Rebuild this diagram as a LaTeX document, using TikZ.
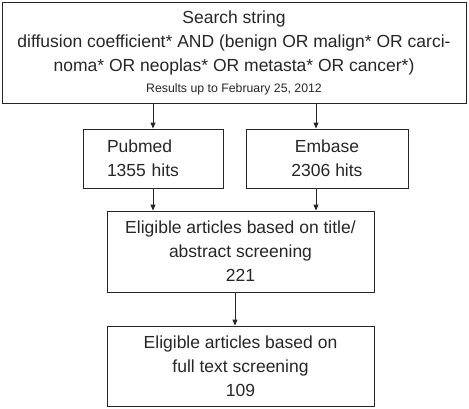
\documentclass[tikz,border=0pt]{standalone}
\usepackage{fontspec}
\setmainfont{Liberation Sans}
\usetikzlibrary{arrows.meta,calc}
\definecolor{ink}{HTML}{262626}
\tikzset{
  x=1pt,y=1pt,
  box/.style={draw=ink,line width=0.9pt,text=ink,align=center,inner sep=0pt,
    font=\fontsize{17.5}{24}\selectfont},
  arr/.style={draw=ink,line width=0.9pt,-{Triangle[length=6pt,width=5pt]}}
}
\begin{document}
\begin{tikzpicture}
\useasboundingbox (0,0) rectangle (469,-408);
\node[box,minimum width=464,minimum height=101] (top) at (234,-52.5)
  {Search string\\
   diffusion coefficient* AND (benign OR malign* OR carci-\\
   noma* OR neoplas* OR metasta* OR cancer*)\\[-3pt]
   {\fontsize{12.3}{14}\selectfont Results up to February 25, 2012}};
\node[box,align=left,text width=92,inner xsep=24,minimum height=59] (pub) at (153,-158.5)
  {Pubmed\\1355 hits};
\node[box,minimum width=162,minimum height=59] (emb) at (327,-158.5)
  {Embase\\2306 hits};
\node[box,minimum width=267,minimum height=81] (b3) at (240.5,-251.5)
  {Eligible articles based on title/\\abstract screening\\221};
\node[box,minimum width=267,minimum height=80] (b4) at (240.5,-366)
  {Eligible articles based on\\full text screening\\109};
\coordinate (en) at ([xshift=-11pt]emb.north);
\coordinate (es) at ([xshift=-11pt]emb.south);
\coordinate (b3s) at ([xshift=-5.5pt]b3.south);
\draw[arr] (top.south -| pub.north) -- (pub.north);
\draw[arr] (top.south -| en) -- (en);
\draw[arr] (pub.south) -- (pub.south |- b3.north);
\draw[arr] (es) -- (es |- b3.north);
\draw[arr] (b3s) -- (b3s |- b4.north);
\end{tikzpicture}
\end{document}
